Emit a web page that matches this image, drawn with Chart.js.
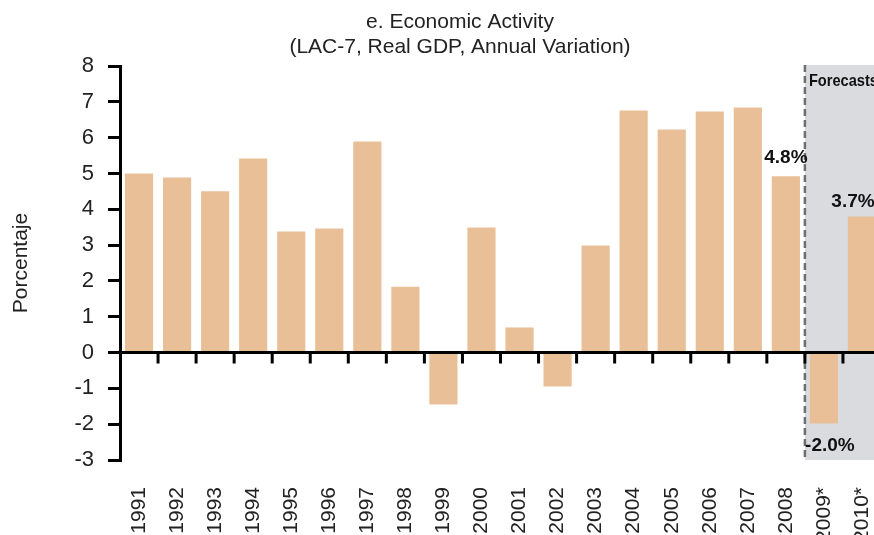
<!DOCTYPE html>
<html>
<head>
<meta charset="utf-8">
<script src="https://cdn.jsdelivr.net/npm/chart.js@4.4.1/dist/chart.umd.min.js"></script>
<style>
  html, body { margin: 0; padding: 0; background: #fff; overflow: hidden; }
  #wrap { width: 874px; height: 535px; overflow: hidden; position: relative; }
</style>
</head>
<body>
<div id="wrap"><canvas id="chartGdp" width="920" height="535"></canvas></div>
<script>
var years = ['1991', '1992', '1993', '1994', '1995', '1996', '1997', '1998', '1999', '2000',
  '2001', '2002', '2003', '2004', '2005', '2006', '2007', '2008', '2009*', '2010*'];
var gdp = [5.0, 4.89, 4.5, 5.42, 3.38, 3.46, 5.89, 1.84, -1.45, 3.49,
  0.7, -0.95, 2.99, 6.76, 6.23, 6.73, 6.84, 4.92, -1.98, 3.8];
var valueLabels = { 17: '4.8%', 18: '-2.0%', 19: '3.7%' };
var titleLines = ['e. Economic Activity', '(LAC-7, Real GDP, Annual Variation)'];
var forecastFrom = 18;
var yMin = -3, yMax = 8;

var FONT = "'Liberation Sans', Arial, sans-serif";
var barColor = '#E8BF97';

// title centred on x=460 (the chart's own title box can't be placed there)
var titleText = {
  id: 'titleText',
  afterDraw: function(chart) {
    var ctx = chart.ctx;
    ctx.save();
    ctx.fillStyle = '#222';
    ctx.font = '21px ' + FONT;
    ctx.textAlign = 'center';
    ctx.textBaseline = 'middle';
    ctx.fillText(titleLines[0], 460, 22);
    ctx.fillText(titleLines[1], 460, 47);
    ctx.restore();
  }
};

// shaded forecast zone + dashed separator
var forecastZone = {
  id: 'forecastZone',
  beforeDatasetsDraw: function(chart) {
    var ctx = chart.ctx, a = chart.chartArea, x = chart.scales.x;
    var w = x.width / years.length;
    var x0 = x.left + forecastFrom * w;
    ctx.save();
    ctx.fillStyle = '#DADBDF';
    ctx.fillRect(x0, a.top - 1, a.right + 40 - x0, a.bottom - a.top + 1);
    ctx.strokeStyle = '#6f6f72';
    ctx.lineWidth = 2.5;
    ctx.setLineDash([7, 4]);
    ctx.beginPath();
    ctx.moveTo(x0, a.top - 1);
    ctx.lineTo(x0, a.bottom);
    ctx.stroke();
    ctx.setLineDash([]);
    // condensed bold label
    ctx.fillStyle = '#111';
    ctx.font = "bold 17px 'Liberation Sans Narrow', 'Liberation Sans', Arial, sans-serif";
    ctx.textAlign = 'left';
    ctx.textBaseline = 'middle';
    ctx.translate(x0 + 4, a.top + 15);
    ctx.scale(0.86, 1);
    ctx.fillText('Forecasts', 0, 0);
    ctx.restore();
  }
};

// zero line with category ticks, plus the value labels
var zeroAxis = {
  id: 'zeroAxis',
  afterDatasetsDraw: function(chart) {
    var ctx = chart.ctx, a = chart.chartArea, x = chart.scales.x, y = chart.scales.y;
    var y0 = y.getPixelForValue(0);
    var w = x.width / years.length;
    ctx.save();
    ctx.strokeStyle = '#000';
    ctx.lineWidth = 3;
    ctx.beginPath();
    ctx.moveTo(a.left, y0);
    ctx.lineTo(a.right + 40, y0);
    for (var i = 1; i <= years.length; i++) {
      var xp = x.left + i * w;
      ctx.moveTo(xp, y0);
      ctx.lineTo(xp, y0 + 11);
    }
    ctx.stroke();

    var meta = chart.getDatasetMeta(0);
    var offs = { 17: [0, -19], 18: [6, 22], 19: [-9, -15] };
    ctx.fillStyle = '#111';
    ctx.font = 'bold 19px ' + FONT;
    ctx.textAlign = 'center';
    ctx.textBaseline = 'middle';
    Object.keys(valueLabels).forEach(function(k) {
      var bar = meta.data[k];
      var o = offs[k] || [0, gdp[k] >= 0 ? -16 : 16];
      ctx.fillText(valueLabels[k], bar.x + o[0], bar.y + o[1]);
    });
    ctx.restore();
  }
};

new Chart(document.getElementById('chartGdp'), {
  type: 'bar',
  data: {
    labels: years,
    datasets: [{ data: gdp, backgroundColor: barColor, barPercentage: 0.74, categoryPercentage: 1 }]
  },
  options: {
    responsive: false,
    animation: false,
    layout: { padding: { left: 0, right: 39, top: 66, bottom: 0 } },
    plugins: {
      legend: { display: false },
      tooltip: { enabled: false },
      title: { display: false }
    },
    scales: {
      x: {
        grid: { display: false, drawTicks: false },
        border: { display: false },
        ticks: { color: '#222', font: { family: FONT, size: 21 }, maxRotation: 90, minRotation: 90, autoSkip: false, padding: 27 },
        afterFit: function(s) { s.height = 75; }
      },
      y: {
        min: yMin,
        max: yMax,
        ticks: { stepSize: 1, color: '#222', font: { family: FONT, size: 22 }, padding: 14 },
        grid: { drawOnChartArea: false, color: '#000', lineWidth: 3, tickLength: 12 },
        border: { display: true, color: '#000', width: 3 },
        title: { display: true, text: 'Porcentaje', color: '#222', font: { family: FONT, size: 21 }, padding: { top: 9, bottom: 0 } },
        afterFit: function(s) { s.width = 120; }
      }
    }
  },
  plugins: [forecastZone, zeroAxis, titleText]
});
</script>
</body>
</html>
